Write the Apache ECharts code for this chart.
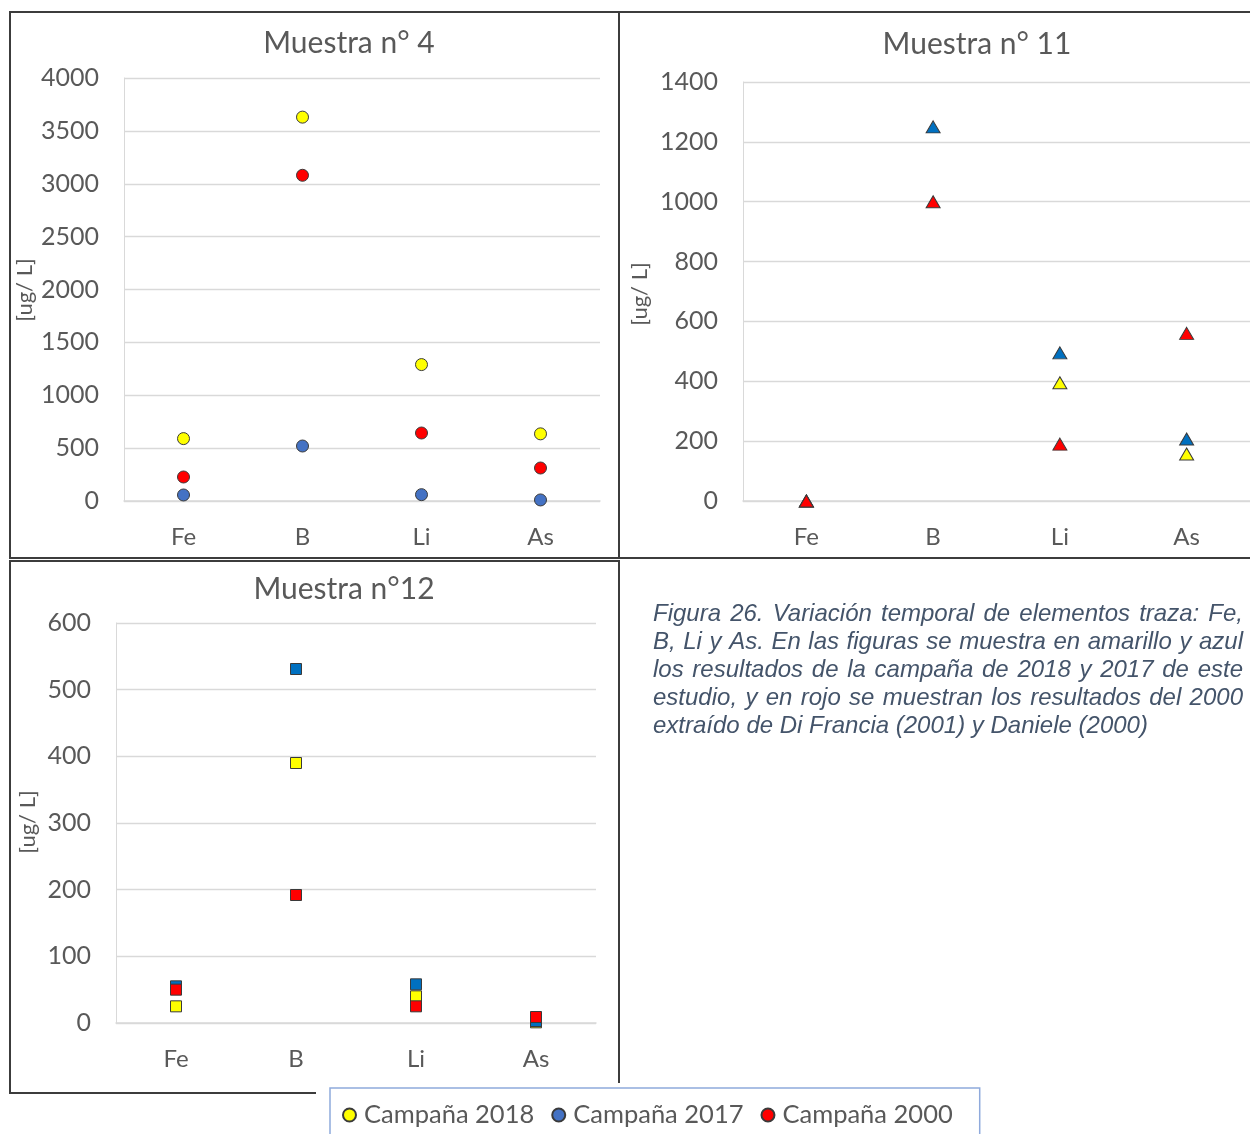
<!DOCTYPE html>
<html>
<head>
<meta charset="utf-8">
<title>Variación temporal de elementos traza</title>
<script src="https://cdn.jsdelivr.net/npm/echarts@6/dist/echarts.min.js"></script>
<style>
  html, body { margin: 0; padding: 0; background: #ffffff; }
  #chart { width: 1250px; height: 1134px; }
</style>
</head>
<body>
<div id="chart"></div>
<script>
// Elements measured in each sample
const elements = ['Fe', 'B', 'Li', 'As'];
const campaigns = ['Campaña 2018', 'Campaña 2017', 'Campaña 2000'];

// Muestra n° 4  [ug/L]
const m4_2018 = [590, 3630, 1290, 635];
const m4_2017 = [57, 520, 60, 10];
const m4_2000 = [227, 3080, 643, 312];

// Muestra n° 11  [ug/L]
const m11_2018 = [0, null, 395, 157];
const m11_2017 = [0, 1250, 495, 207];
const m11_2000 = [0, 1000, 190, 560];

// Muestra n° 12  [ug/L]
const m12_2018 = [25, 390, 40, 1];
const m12_2017 = [55, 531, 58, 3];
const m12_2000 = [50, 192, 25, 9];

// Value-axis tick settings per panel
const m4Axis = { max: 4000, interval: 500 };
const m11Axis = { max: 1400, interval: 200 };
const m12Axis = { max: 600, interval: 100 };

const unitLabel = '[ug/ L]';
const titles = ['Muestra n° 4', 'Muestra n° 11', 'Muestra n°12'];
const captionLines = [
  'Figura 26. Variación temporal de elementos traza: Fe,',
  'B, Li y As. En las figuras se muestra en amarillo y azul',
  'los resultados de la campaña de 2018 y 2017 de este',
  'estudio, y en rojo se muestran los resultados del 2000',
  'extraído de Di Francia (2001) y Daniele (2000)'
];

const FONT = 'Lato, "Open Sans", sans-serif';
const TXT = '#595959';
const GRIDLINE = '#d9d9d9';
const YELLOW = '#ffff00', RED = '#ff0000';

const grids = [
  { left: 124, top: 78, width: 476, height: 423 },
  { left: 743, top: 82, width: 510, height: 419 },
  { left: 116, top: 623, width: 480, height: 400 }
];

function xAxisFor(i) {
  return {
    type: 'category', gridIndex: i, data: elements,
    axisLine: { lineStyle: { color: GRIDLINE, width: 1.5 } },
    axisTick: { show: false },
    axisLabel: { color: TXT, fontSize: 24, fontFamily: FONT, margin: 24 }
  };
}
function yAxisFor(i, cfg) {
  return {
    type: 'value', gridIndex: i, min: 0, max: cfg.max, interval: cfg.interval,
    axisLine: { show: true, lineStyle: { color: GRIDLINE, width: 1 } },
    axisTick: { show: false },
    splitLine: { lineStyle: { color: GRIDLINE, width: 1.3 } },
    axisLabel: {
      color: TXT, fontSize: 25, fontFamily: FONT, margin: 25,
      formatter: function (v) { return String(v); }
    }
  };
}

function dots(name, idx, data, symbol, size, color) {
  return {
    name: name, type: 'scatter', xAxisIndex: idx, yAxisIndex: idx,
    data: data, symbol: symbol, symbolSize: size,
    itemStyle: { color: color, borderColor: '#3a3a3a', borderWidth: 1, opacity: 1 },
    emphasis: { disabled: true }
  };
}

const series = [
  dots(campaigns[0], 0, m4_2018, 'circle', 12, YELLOW),
  dots(campaigns[1], 0, m4_2017, 'circle', 12, '#4472c4'),
  dots(campaigns[2], 0, m4_2000, 'circle', 12, RED),
  dots(campaigns[0], 1, m11_2018, 'triangle', [14, 12], YELLOW),
  dots(campaigns[1], 1, m11_2017, 'triangle', [14, 12], '#0070c0'),
  dots(campaigns[2], 1, m11_2000, 'triangle', [14, 12], RED),
  dots(campaigns[0], 2, m12_2018, 'rect', 11, YELLOW),
  dots(campaigns[1], 2, m12_2017, 'rect', 11, '#0070c0'),
  dots(campaigns[2], 2, m12_2000, 'rect', 11, RED)
];

const titleBase = { color: TXT, fontSize: 30, fontWeight: 'normal', fontFamily: FONT };

const border = { stroke: '#3c3c3c', lineWidth: 2, fill: null };

const graphics = [
  // panel frames
  { type: 'rect', shape: { x: 10, y: 12, width: 609, height: 546 }, style: border, silent: true },
  { type: 'polyline', shape: { points: [[1252, 12], [619, 12], [619, 558], [1252, 558]] }, style: border, silent: true },
  { type: 'polyline', shape: { points: [[619, 1083], [619, 561], [10, 561], [10, 1093], [316, 1093]] }, style: border, silent: true }
];

// rotated unit labels beside each value axis
[[25, 290], [640, 294], [28, 822]].forEach(function (p) {
  graphics.push({
    type: 'text', x: p[0], y: p[1], rotation: Math.PI / 2, silent: true,
    style: {
      text: unitLabel, fill: TXT, align: 'center', verticalAlign: 'middle',
      font: '22px ' + FONT
    }
  });
});

// justified caption block
const CAPTION_FONT = 'italic 24px "Liberation Sans", Arial, sans-serif';
const captionLeft = 653, captionWidth = 590, captionTop = 602, captionLead = 28;
const measure = document.createElement('canvas').getContext('2d');
measure.font = CAPTION_FONT;
captionLines.forEach(function (line, k) {
  const y = captionTop + k * captionLead;
  const words = line.split(' ');
  const isLast = k === captionLines.length - 1;
  if (isLast || words.length < 2) {
    graphics.push({
      type: 'text', x: captionLeft, y: y, silent: true,
      style: { text: line, fill: '#44546a', font: CAPTION_FONT, verticalAlign: 'top' }
    });
    return;
  }
  const widths = words.map(function (w) { return measure.measureText(w).width; });
  const total = widths.reduce(function (a, b) { return a + b; }, 0);
  const gap = (captionWidth - total) / (words.length - 1);
  let x = captionLeft;
  words.forEach(function (w, j) {
    graphics.push({
      type: 'text', x: x, y: y, silent: true,
      style: { text: w, fill: '#44546a', font: CAPTION_FONT, verticalAlign: 'top' }
    });
    x += widths[j] + gap;
  });
});

const chart = echarts.init(document.getElementById('chart'), null, { renderer: 'canvas' });
chart.setOption({
  animation: false,
  backgroundColor: '#ffffff',
  title: [
    { text: titles[0], left: 344, top: 23, textAlign: 'center', textStyle: titleBase },
    { text: titles[1], left: 972, top: 24, textAlign: 'center', textStyle: titleBase },
    { text: titles[2], left: 339, top: 569, textAlign: 'center', textStyle: titleBase }
  ],
  grid: grids,
  xAxis: [xAxisFor(0), xAxisFor(1), xAxisFor(2)],
  yAxis: [yAxisFor(0, m4Axis), yAxisFor(1, m11Axis), yAxisFor(2, m12Axis)],
  legend: {
    left: 330, top: 1088,
    data: campaigns,
    icon: 'circle', itemWidth: 13, itemHeight: 13, itemGap: 17,
    padding: [14, 27, 20, 12],
    borderColor: '#8faadc', borderWidth: 1.5, backgroundColor: '#ffffff',
    textStyle: { color: TXT, fontSize: 25.5, fontFamily: FONT, padding: [0, 0, 0, 3] },
    selectedMode: false
  },
  graphic: graphics,
  series: series
});
</script>
</body>
</html>
